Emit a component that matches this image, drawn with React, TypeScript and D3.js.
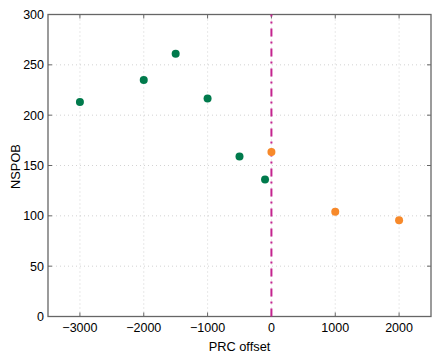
import React from 'react';
import * as d3 from 'd3';

// before the PRC change (green) and after it (orange)
const beforeOffsets = [-3000, -2000, -1500, -1000, -500, -100];
const beforeValues = [213, 235, 261, 216.5, 159, 136];
const afterOffsets = [0, 1000, 2000];
const afterValues = [163.5, 104, 95.5];

const xTicks = [-3000, -2000, -1000, 0, 1000, 2000];
const yTicks = [0, 50, 100, 150, 200, 250, 300];
const markerAt = 0;

const width = 443;
const height = 359;
const margin = { top: 14.5, right: 12, bottom: 42.5, left: 48 };

export default function App() {
  const x = d3.scaleLinear().domain([-3500, 2500]).range([margin.left, width - margin.right]);
  const y = d3.scaleLinear().domain([0, 300]).range([height - margin.bottom, margin.top]);

  const font = '"Liberation Sans", Arial, Helvetica, sans-serif';
  const x0 = x.range()[0], x1 = x.range()[1];
  const y0 = y.range()[0], y1 = y.range()[1];

  const green = beforeOffsets.map((d, i) => ({ x: d, y: beforeValues[i] }));
  const orange = afterOffsets.map((d, i) => ({ x: d, y: afterValues[i] }));

  return (
    <svg width={width} height={height} style={{ position: 'absolute', left: 0, top: 0, background: '#fff' }}>
      {/* grid */}
      <g stroke="#c8c8c8" strokeWidth={0.8} strokeDasharray="1,3">
        {xTicks.map(t => <line key={'gx' + t} x1={x(t)} x2={x(t)} y1={y0} y2={y1} />)}
        {yTicks.filter(t => t > 0 && t < 300).map(t => <line key={'gy' + t} x1={x0} x2={x1} y1={y(t)} y2={y(t)} />)}
      </g>

      {/* ticks inside the box */}
      <g stroke="#666" strokeWidth={1}>
        {xTicks.map(t => (
          <g key={'tx' + t}>
            <line x1={x(t)} x2={x(t)} y1={y0} y2={y0 - 4} />
            <line x1={x(t)} x2={x(t)} y1={y1} y2={y1 + 4} />
          </g>
        ))}
        {yTicks.map(t => (
          <g key={'ty' + t}>
            <line x1={x0} x2={x0 + 4} y1={y(t)} y2={y(t)} />
            <line x1={x1} x2={x1 - 4} y1={y(t)} y2={y(t)} />
          </g>
        ))}
      </g>

      <rect x={x0} y={y1} width={x1 - x0} height={y0 - y1} fill="none" stroke="#666" strokeWidth={1.3} />

      {/* zero marker */}
      <line x1={x(markerAt)} x2={x(markerAt)} y1={y0} y2={y1} stroke="#c4248f" strokeWidth={2} strokeDasharray="8,5,2,5" />

      {green.map((d, i) => <circle key={'g' + i} cx={x(d.x)} cy={y(d.y)} r={4} fill="#007a4c" />)}
      {orange.map((d, i) => <circle key={'o' + i} cx={x(d.x)} cy={y(d.y)} r={4} fill="#f7892a" />)}

      <g fontFamily={font} fontSize={12.5} fill="#000">
        {xTicks.map(t => (
          <text key={'lx' + t} x={x(t)} y={y0 + 15.5} textAnchor="middle">{d3.format('')(t).replace('-', '\u2212')}</text>
        ))}
        {yTicks.map(t => (
          <text key={'ly' + t} x={x0 - 4} y={y(t) + 4.5} textAnchor="end">{t}</text>
        ))}
        <text x={x(-500)} y={y0 + 34.5} textAnchor="middle" fontSize={12.8}>PRC offset</text>
        <text transform={`translate(20,166.5) rotate(-90)`} textAnchor="middle" fontSize={12.8}>NSPOB</text>
      </g>
    </svg>
  );
}
